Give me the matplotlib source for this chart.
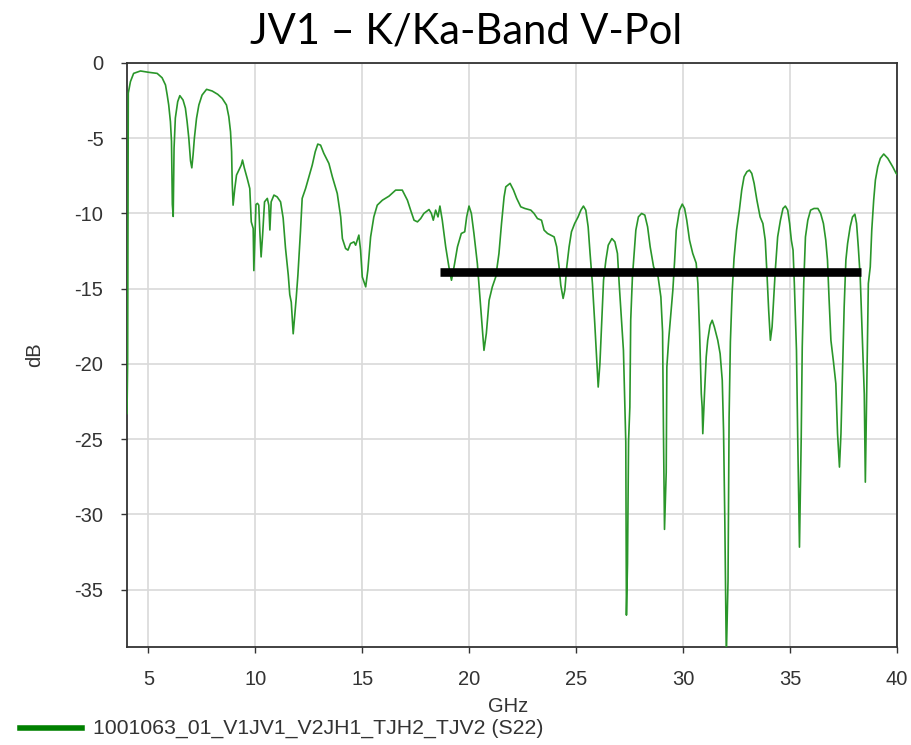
import matplotlib
matplotlib.use("Agg")
import matplotlib.pyplot as plt
from matplotlib.lines import Line2D

plt.rcParams["axes.unicode_minus"] = False

# S22 trace, frequency in GHz and return loss in dB
freq = [
    4.00, 4.03, 4.06, 4.16, 4.31, 4.63, 5.02, 5.41, 5.64, 5.80, 5.88, 5.95, 6.03, 6.08,
    6.12, 6.16, 6.20, 6.26, 6.37, 6.47, 6.62, 6.73, 6.81, 6.89, 6.97, 7.03, 7.09, 7.15,
    7.25, 7.36, 7.51, 7.72, 7.98, 8.24, 8.45, 8.65, 8.76, 8.84, 8.89, 8.92, 8.96, 9.04,
    9.12, 9.23, 9.34, 9.40, 9.49, 9.62, 9.74, 9.81, 9.90, 9.93, 9.97, 10.03, 10.10, 10.16,
    10.21, 10.27, 10.34, 10.43, 10.56, 10.63, 10.68, 10.74, 10.87, 11.02, 11.18, 11.30,
    11.41, 11.54, 11.61, 11.68, 11.77, 11.83, 11.91, 11.99, 12.11, 12.19, 12.35, 12.50,
    12.66, 12.80, 12.92, 13.05, 13.20, 13.44, 13.60, 13.83, 13.99, 14.07, 14.22, 14.33,
    14.45, 14.61, 14.69, 14.84, 14.92, 15.00, 15.16, 15.26, 15.39, 15.54, 15.70, 15.94,
    16.25, 16.56, 16.87, 17.11, 17.26, 17.42, 17.58, 17.73, 17.88, 18.12, 18.23, 18.32,
    18.43, 18.54, 18.63, 18.74, 18.90, 19.05, 19.17, 19.29, 19.45, 19.63, 19.79, 19.88,
    19.99, 20.10, 20.22, 20.38, 20.50, 20.62, 20.69, 20.80, 20.93, 21.08, 21.24, 21.39,
    21.51, 21.63, 21.71, 21.91, 22.07, 22.22, 22.41, 22.60, 22.88, 23.03, 23.19, 23.38,
    23.50, 23.66, 23.81, 23.97, 24.09, 24.20, 24.28, 24.39, 24.47, 24.56, 24.67, 24.78,
    24.93, 25.09, 25.22, 25.34, 25.45, 25.56, 25.65, 25.76, 25.87, 25.97, 26.03, 26.11,
    26.19, 26.28, 26.39, 26.50, 26.67, 26.81, 26.93, 27.01, 27.12, 27.21, 27.28, 27.32,
    27.35, 27.40, 27.45, 27.51, 27.55, 27.63, 27.71, 27.79, 27.91, 28.06, 28.21, 28.34,
    28.46, 28.62, 28.83, 28.96, 29.04, 29.08, 29.13, 29.21, 29.24, 29.33, 29.44, 29.52,
    29.60, 29.68, 29.83, 29.96, 30.07, 30.17, 30.30, 30.45, 30.61, 30.69, 30.77, 30.85,
    30.89, 30.92, 31.00, 31.08, 31.15, 31.26, 31.36, 31.46, 31.62, 31.73, 31.83, 31.89,
    31.95, 32.02, 32.10, 32.15, 32.21, 32.29, 32.38, 32.50, 32.63, 32.74, 32.85, 32.98,
    33.10, 33.21, 33.32, 33.45, 33.60, 33.73, 33.84, 33.92, 34.00, 34.08, 34.16, 34.23,
    34.31, 34.42, 34.55, 34.67, 34.78, 34.89, 34.98, 35.06, 35.14, 35.20, 35.30, 35.36,
    35.44, 35.52, 35.57, 35.64, 35.72, 35.83, 35.96, 36.12, 36.30, 36.43, 36.56, 36.67,
    36.75, 36.82, 36.91, 37.03, 37.14, 37.22, 37.31, 37.38, 37.46, 37.53, 37.61, 37.69,
    37.81, 37.92, 38.03, 38.11, 38.19, 38.28, 38.39, 38.47, 38.52, 38.60, 38.66, 38.75,
    38.82, 38.91, 38.99, 39.10, 39.22, 39.38, 39.57, 39.80, 39.96, 40.00,
]
s22 = [
    -23.3, -19.8, -2.0, -1.24, -0.69, -0.53, -0.62, -0.69, -0.98, -1.46, -2.13, -2.79, -3.9, -5.2,
    -9.4, -10.2, -5.66, -3.66, -2.57, -2.17, -2.46, -3.0, -3.9, -5.0, -6.5, -6.97, -6.1, -5.0,
    -3.68, -2.79, -2.13, -1.75, -1.86, -2.08, -2.35, -2.79, -3.57, -4.57, -5.9, -8.0, -9.45, -8.34,
    -7.45, -7.12, -6.79, -6.45, -7.0, -7.67, -8.34, -10.56, -11.0, -13.8, -12.0, -9.4, -9.33, -9.45,
    -11.2, -12.89, -11.44, -9.23, -9.0, -9.45, -11.1, -9.23, -8.78, -8.9, -9.23, -10.3,
    -12.3, -14.1, -15.4, -15.9, -18.0, -17.0, -15.65, -14.1, -11.2, -9.0, -8.34, -7.6,
    -6.79, -5.9, -5.39, -5.46, -6.0, -6.68, -7.56, -8.67, -10.23, -11.67, -12.33, -12.44,
    -12.0, -11.89, -12.11, -11.44, -12.44, -14.22, -14.88, -13.77, -11.56, -10.23, -9.45, -9.12,
    -8.85, -8.45, -8.45, -9.12, -9.78, -10.45, -10.56, -10.34, -10.0, -9.74, -10.0, -10.45,
    -9.78, -10.23, -9.51, -10.45, -12.22, -13.55, -14.44, -13.55, -12.22, -11.33, -11.22, -10.23,
    -9.51, -10.0, -11.33, -13.33, -15.55, -17.77, -19.1, -17.98, -15.77, -14.88, -14.22, -12.66,
    -10.67, -8.9, -8.23, -8.0, -8.45, -9.0, -9.56, -9.67, -9.78, -10.0, -10.34, -10.45,
    -11.11, -11.33, -11.44, -11.56, -12.22, -13.55, -14.77, -15.65, -15.1, -13.55, -12.22, -11.22,
    -10.67, -10.23, -9.78, -9.51, -9.78, -10.89, -12.66, -14.66, -17.32, -19.98, -21.54, -19.98,
    -17.32, -14.44, -13.1, -12.11, -11.67, -11.89, -12.66, -14.66, -17.1, -19.1, -22.87, -25.2,
    -36.7, -33.3, -25.1, -22.87, -17.1, -14.22, -12.66, -11.11, -10.23, -10.0, -10.11, -10.89,
    -12.22, -13.55, -14.22, -15.55, -17.88, -24.3, -31.0, -27.2, -20.2, -18.3, -16.43, -15.1,
    -13.22, -11.11, -9.78, -9.38, -9.67, -10.45, -11.78, -12.66, -13.3, -14.66, -17.88, -21.98,
    -22.87, -24.64, -21.98, -19.54, -18.43, -17.43, -17.1, -17.54, -18.43, -19.32, -21.09, -24.42,
    -30.4, -39.5, -34.4, -23.53, -18.54, -15.32, -13.0, -11.11, -9.78, -8.45, -7.56, -7.23,
    -7.12, -7.34, -8.0, -9.12, -10.23, -10.67, -11.78, -13.99, -16.43, -18.43, -17.54, -15.77,
    -13.77, -11.56, -10.45, -9.67, -9.51, -9.78, -10.67, -11.78, -12.44, -14.66, -19.1, -25.08,
    -32.18, -25.08, -18.87, -14.66, -11.56, -10.45, -9.78, -9.67, -9.67, -10.0, -10.67, -11.78,
    -13.1, -15.55, -18.43, -19.87, -21.31, -24.64, -26.86, -24.64, -20.2, -16.21, -13.1, -12.0,
    -10.89, -10.23, -10.05, -10.67, -12.22, -14.22, -18.65, -22.0, -27.86, -20.43, -14.66, -13.55,
    -11.11, -9.12, -7.78, -6.9, -6.34, -6.05, -6.34, -6.9, -7.34, -7.4,
]

# spec limit line
spec_freq = [18.65, 38.32]
spec_db = [-13.9, -13.9]

x_ticks = [5, 10, 15, 20, 25, 30, 35, 40]
y_ticks = [0, -5, -10, -15, -20, -25, -30, -35]

W, H = 911, 745
fig = plt.figure(figsize=(W / 100, H / 100), dpi=100)
ax = fig.add_axes([127 / W, 1 - 646.7 / H, (897 - 127) / W, (646.7 - 63) / H])

ax.plot(freq, s22, color="#2a962a", lw=1.2, zorder=3)
ax.plot(spec_freq, spec_db, color="black", lw=6.2, solid_capstyle="butt", zorder=4)

ax.set_xlim(4, 40)
ax.set_ylim(-38.8, 0)
ax.set_xticks(x_ticks)
ax.set_yticks(y_ticks)
ax.grid(True, color="#d9d9d9", lw=1.2)
ax.set_axisbelow(True)

for sp in ax.spines.values():
    sp.set_color("#333333")
    sp.set_linewidth(1.3)

ax.tick_params(axis="both", direction="out", length=4, width=1, color="#333333",
               labelsize=14.5, labelcolor="#333333", pad=13)
for lab in ax.get_xticklabels() + ax.get_yticklabels():
    lab.set_family("Liberation Sans")

fig.text(466 / W, 1 - 31 / H, "JV1 \u2013 K/Ka-Band V-Pol", ha="center", va="center",
         fontsize=30, family="Lato", color="black")
fig.text(35 / W, 1 - 355 / H, "dB", rotation=90, ha="center", va="center",
         fontsize=14.5, family="Liberation Sans", color="#333333")
fig.text(508 / W, 1 - 707 / H, "GHz", ha="center", va="center",
         fontsize=14.5, family="Liberation Sans", color="#333333")

# legend entry drawn under the axis label
fig.add_artist(Line2D([20 / W, 82 / W], [1 - 728 / H, 1 - 728 / H],
                      color="#008000", lw=4, transform=fig.transFigure))
fig.text(93 / W, 1 - 728 / H, "1001063_01_V1JV1_V2JH1_TJH2_TJV2 (S22)", ha="left", va="center",
         fontsize=15.3, family="Liberation Sans", color="#333333")

fig.savefig("out.png", dpi=100)
